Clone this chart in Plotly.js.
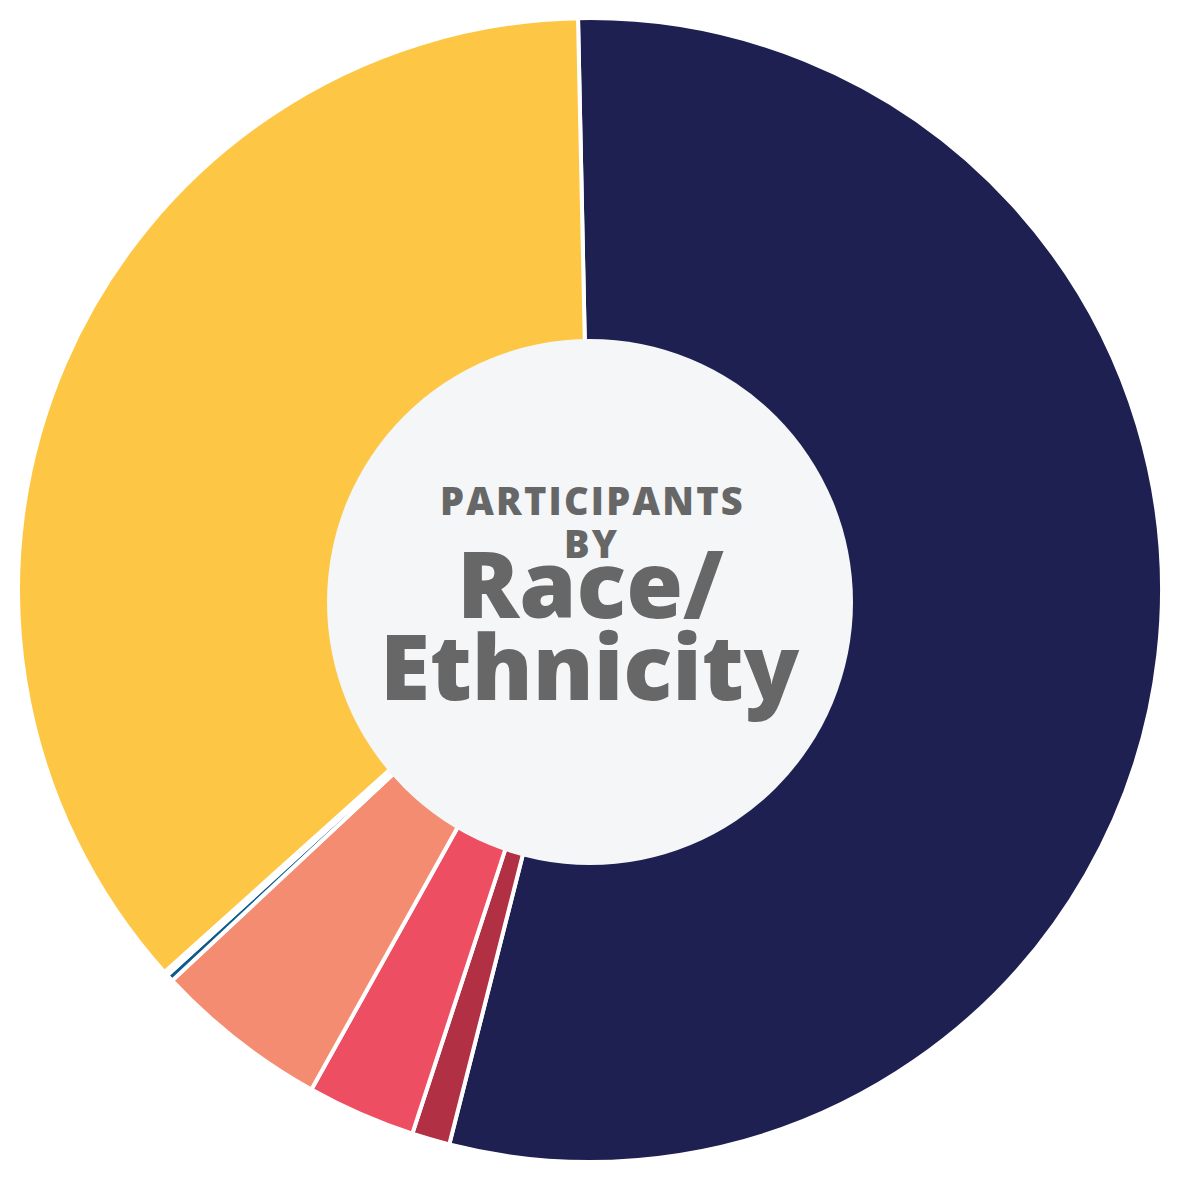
<!DOCTYPE html>
<html>
<head>
<meta charset="utf-8">
<script src="https://cdn.plot.ly/plotly-3.0.1.min.js"></script>
<style>
  html, body { margin: 0; padding: 0; background: #ffffff; }
  #chart { width: 1180px; height: 1180px; }
  text[data-unformatted="PARTICIPANTS"], text[data-unformatted="BY"] { letter-spacing: 2.2px; }
</style>
</head>
<body>
<div id="chart"></div>
<script>
// Data (percent of participants), clockwise from 12 o'clock
const categories = ['White', 'Black or African American', 'Hispanic or Latino', 'Two or More Races', 'American Indian or Alaska Native', 'Native Hawaiian or Pacific Islander', 'Asian'];
const shares = [54.29, 1.07, 3.07, 4.94, 0.20, 0.12, 36.31];
const sliceColors = ['#1d2050', '#b13044', '#ee4e62', '#f38c70', '#0f5a8c', '#ffffff', '#fdc745'];

const titleSmall = ['PARTICIPANTS', 'BY'];
const titleLarge = ['Race/', 'Ethnicity'];

const W = 1180, H = 1180;
const px = v => v / W;
const py = v => 1 - v / H;

const trace = {
  type: 'pie',
  labels: categories,
  values: shares,
  sort: false,
  direction: 'clockwise',
  rotation: -1.2,
  hole: 0.4,
  textinfo: 'none',
  hoverinfo: 'label+percent',
  showlegend: false,
  marker: { colors: sliceColors, line: { color: '#ffffff', width: 4 } },
  domain: { x: [px(18), px(1162)], y: [py(1162), py(18)] }
};

const font = '"Open Sans", Lato, "DejaVu Sans", sans-serif';
const grey = '#676767';

const layout = {
  width: W, height: H,
  margin: { l: 0, r: 0, t: 0, b: 0 },
  paper_bgcolor: '#ffffff',
  plot_bgcolor: '#ffffff',
  shapes: [{
    type: 'circle', xref: 'paper', yref: 'paper', layer: 'above',
    x0: px(327), x1: px(853), y0: py(865), y1: py(339),
    fillcolor: '#f4f6f8', line: { width: 0 }
  }],
  annotations: [
    { text: titleSmall[0], x: px(592), y: py(500), xref: 'paper', yref: 'paper', xanchor: 'center', yanchor: 'middle', showarrow: false,
      font: { family: font, size: 38, color: grey, weight: 800 } },
    { text: titleSmall[1], x: px(591), y: py(543), xref: 'paper', yref: 'paper', xanchor: 'center', yanchor: 'middle', showarrow: false,
      font: { family: font, size: 38, color: grey, weight: 800 } },
    { text: titleLarge[0], x: px(590), y: py(582), xref: 'paper', yref: 'paper', xanchor: 'center', yanchor: 'middle', showarrow: false,
      font: { family: font, size: 92, color: grey, weight: 800 } },
    { text: titleLarge[1], x: px(590), y: py(665), xref: 'paper', yref: 'paper', xanchor: 'center', yanchor: 'middle', showarrow: false,
      font: { family: font, size: 91, color: grey, weight: 800 } }
  ]
};

Plotly.newPlot('chart', [trace], layout, { displayModeBar: false, staticPlot: true });
</script>
</body>
</html>
